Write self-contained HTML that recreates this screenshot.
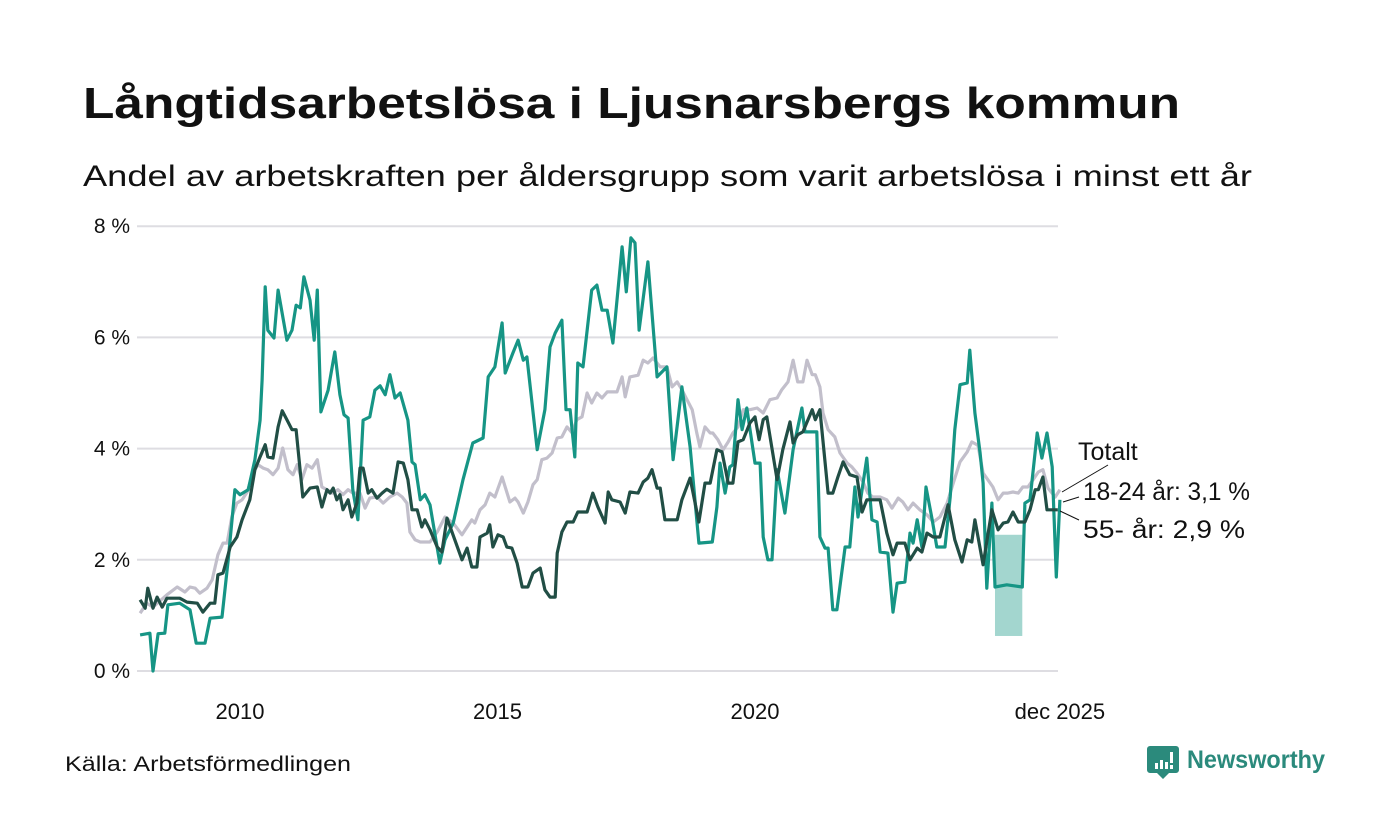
<!DOCTYPE html>
<html><head><meta charset="utf-8"><style>
html,body{margin:0;padding:0;background:#fff;}
svg{display:block;font-family:"Liberation Sans",sans-serif;}
</style></head><body>
<svg id="chart" width="1400" height="840" viewBox="0 0 1400 840" xmlns="http://www.w3.org/2000/svg">
<rect width="1400" height="840" fill="#fff"/>
<text x="83" y="118" font-size="44" font-weight="bold" fill="#111" textLength="1097" lengthAdjust="spacingAndGlyphs">Långtidsarbetslösa i Ljusnarsbergs kommun</text>
<text x="83" y="186" font-size="30" fill="#111" textLength="1169" lengthAdjust="spacingAndGlyphs">Andel av arbetskraften per åldersgrupp som varit arbetslösa i minst ett år</text>
<g id="grid"></g>
<g id="band"></g>
<g id="series"></g>
<g id="labels">
<line x1="1062" y1="492" x2="1108" y2="465" stroke="#111" stroke-width="1"/>
<line x1="1063" y1="502" x2="1079" y2="497" stroke="#111" stroke-width="1"/>
<line x1="1060" y1="511" x2="1079" y2="520" stroke="#111" stroke-width="1"/>
<text x="1078" y="460" font-size="25" fill="#111">Totalt</text>
<text x="1083" y="500" font-size="25" fill="#111" textLength="167" lengthAdjust="spacingAndGlyphs">18-24 år: 3,1 %</text>
<text x="1083" y="538" font-size="25" fill="#111" textLength="162" lengthAdjust="spacingAndGlyphs">55- år: 2,9 %</text>
</g>
<text x="65" y="771" font-size="21" fill="#111" textLength="286" lengthAdjust="spacingAndGlyphs">Källa: Arbetsförmedlingen</text>
<g>
<path d="M1150 746 h26 a3 3 0 0 1 3 3 v21 a3 3 0 0 1 -3 3 h-7 l-6 6 l-6 -6 h-7 a3 3 0 0 1 -3 -3 v-21 a3 3 0 0 1 3 -3z" fill="#2b8a7c"/>
<rect x="1155" y="763" width="3" height="6" fill="#fff"/><rect x="1160" y="760" width="3" height="9" fill="#fff"/><rect x="1165" y="762" width="3" height="7" fill="#fff"/><rect x="1170" y="752" width="3" height="11" fill="#fff"/><rect x="1170" y="765" width="3" height="4" fill="#fff"/>
<text x="1187" y="768" font-size="25" font-weight="bold" fill="#2b8a7c" textLength="138" lengthAdjust="spacingAndGlyphs">Newsworthy</text>
</g>
</svg>
<script>
const yTicks = [0, 2, 4, 6, 8];
const yTickLabels = ["0 %", "2 %", "4 %", "6 %", "8 %"];
const xTicks = [2010, 2015, 2020, 2025.92];
const xTickLabels = ["2010", "2015", "2020", "dec 2025"];
const bandRange = [2024.66, 2025.19];
const bandValues = [0.63, 2.45];
const totalPoints = [[2008.06,1.04],[2008.19,1.22],[2008.31,1.15],[2008.58,1.37],[2008.78,1.51],[2008.93,1.42],[2009.03,1.51],[2009.13,1.49],[2009.22,1.40],[2009.36,1.49],[2009.46,1.64],[2009.57,2.09],[2009.67,2.30],[2009.75,2.30],[2009.84,2.77],[2009.94,3.02],[2010.04,3.08],[2010.14,3.22],[2010.25,3.56],[2010.35,3.71],[2010.45,3.65],[2010.54,3.62],[2010.64,3.53],[2010.74,3.65],[2010.83,4.01],[2010.93,3.62],[2011.03,3.53],[2011.11,3.71],[2011.20,3.44],[2011.30,3.71],[2011.40,3.65],[2011.50,3.80],[2011.59,3.31],[2011.69,3.26],[2011.79,3.20],[2011.90,3.26],[2012.00,3.17],[2012.10,3.26],[2012.19,3.20],[2012.33,3.20],[2012.43,2.93],[2012.52,3.11],[2012.66,3.13],[2012.78,3.02],[2012.91,3.13],[2013.05,3.20],[2013.15,3.13],[2013.24,3.02],[2013.30,2.50],[2013.40,2.36],[2013.50,2.32],[2013.69,2.32],[2013.83,2.50],[2013.98,2.77],[2014.14,2.66],[2014.31,2.45],[2014.41,2.59],[2014.50,2.72],[2014.56,2.66],[2014.66,2.90],[2014.76,2.99],[2014.85,3.20],[2014.95,3.13],[2015.09,3.49],[2015.15,3.31],[2015.24,3.04],[2015.34,3.11],[2015.40,3.04],[2015.50,2.84],[2015.59,3.04],[2015.69,3.35],[2015.77,3.44],[2015.86,3.80],[2015.96,3.83],[2016.06,3.92],[2016.16,4.19],[2016.25,4.21],[2016.35,4.39],[2016.45,4.28],[2016.54,4.52],[2016.64,4.57],[2016.74,5.00],[2016.83,4.82],[2016.93,5.00],[2017.03,4.91],[2017.13,5.02],[2017.32,5.02],[2017.42,5.29],[2017.48,4.93],[2017.57,5.29],[2017.73,5.32],[2017.83,5.59],[2017.92,5.54],[2018.02,5.63],[2018.16,5.47],[2018.29,5.47],[2018.39,5.11],[2018.49,5.20],[2018.58,5.06],[2018.68,4.88],[2018.78,4.70],[2018.87,4.28],[2018.93,4.03],[2019.03,4.39],[2019.13,4.28],[2019.18,4.28],[2019.28,4.16],[2019.38,3.98],[2019.48,4.12],[2019.57,4.28],[2019.67,4.39],[2019.77,4.70],[2019.90,4.70],[2020.04,4.73],[2020.16,4.64],[2020.29,4.88],[2020.43,4.91],[2020.52,5.06],[2020.64,5.20],[2020.74,5.59],[2020.83,5.20],[2020.93,5.20],[2021.01,5.59],[2021.11,5.33],[2021.17,5.33],[2021.26,5.11],[2021.32,4.64],[2021.42,4.34],[2021.55,4.21],[2021.65,3.92],[2021.79,3.74],[2021.88,3.67],[2021.98,3.56],[2022.10,3.40],[2022.19,3.20],[2022.29,3.13],[2022.43,3.13],[2022.56,3.08],[2022.66,2.93],[2022.78,3.11],[2022.87,3.04],[2022.97,2.90],[2023.07,3.02],[2023.20,2.90],[2023.34,2.81],[2023.46,2.68],[2023.59,2.77],[2023.73,3.02],[2023.84,3.35],[2023.98,3.76],[2024.12,3.94],[2024.21,4.12],[2024.33,4.06],[2024.43,3.56],[2024.52,3.44],[2024.62,3.31],[2024.72,3.08],[2024.82,3.20],[2024.91,3.20],[2025.01,3.22],[2025.11,3.20],[2025.20,3.31],[2025.30,3.31],[2025.40,3.44],[2025.50,3.58],[2025.59,3.62],[2025.69,3.29],[2025.83,3.13],[2025.92,3.26]];
const youthPoints = [[2008.06,0.65],[2008.25,0.68],[2008.31,0],[2008.41,0.67],[2008.54,0.68],[2008.60,1.19],[2008.83,1.22],[2009.03,1.10],[2009.15,0.50],[2009.32,0.50],[2009.42,0.95],[2009.65,0.97],[2009.77,2.00],[2009.90,3.26],[2010.00,3.17],[2010.16,3.26],[2010.29,3.80],[2010.39,4.51],[2010.43,5.23],[2010.49,6.91],[2010.54,6.13],[2010.66,5.99],[2010.74,6.85],[2010.91,5.95],[2011.01,6.13],[2011.09,6.58],[2011.17,6.53],[2011.24,7.09],[2011.36,6.67],[2011.44,5.95],[2011.50,6.85],[2011.57,4.66],[2011.71,5.05],[2011.84,5.74],[2011.94,4.97],[2012.02,4.61],[2012.10,4.55],[2012.19,3.26],[2012.29,2.72],[2012.39,4.51],[2012.52,4.57],[2012.62,5.05],[2012.72,5.13],[2012.82,4.97],[2012.91,5.33],[2013.01,4.91],[2013.11,5.00],[2013.26,4.51],[2013.34,3.76],[2013.40,3.71],[2013.50,3.08],[2013.59,3.17],[2013.69,2.99],[2013.88,1.94],[2013.98,2.36],[2014.14,2.66],[2014.33,3.44],[2014.52,4.10],[2014.72,4.19],[2014.82,5.29],[2014.95,5.47],[2015.09,6.26],[2015.15,5.36],[2015.30,5.72],[2015.40,5.95],[2015.50,5.59],[2015.57,5.65],[2015.77,3.98],[2015.92,4.70],[2016.02,5.83],[2016.12,6.08],[2016.25,6.31],[2016.33,4.70],[2016.41,4.70],[2016.50,3.85],[2016.56,5.54],[2016.66,5.47],[2016.83,6.85],[2016.93,6.94],[2017.03,6.49],[2017.13,6.49],[2017.24,5.90],[2017.42,7.63],[2017.50,6.82],[2017.59,7.79],[2017.67,7.70],[2017.75,6.13],[2017.92,7.36],[2018.10,5.29],[2018.29,5.47],[2018.41,3.80],[2018.58,5.11],[2018.74,4.03],[2018.91,2.30],[2019.17,2.32],[2019.26,2.95],[2019.32,3.74],[2019.42,3.20],[2019.51,3.67],[2019.57,3.71],[2019.67,4.88],[2019.75,4.34],[2019.84,4.73],[2020.00,3.74],[2020.10,3.74],[2020.16,2.41],[2020.25,2.00],[2020.33,2.00],[2020.43,3.62],[2020.58,2.84],[2020.74,3.98],[2020.91,4.73],[2020.97,4.30],[2021.20,4.30],[2021.26,2.41],[2021.36,2.21],[2021.42,2.21],[2021.51,1.10],[2021.59,1.10],[2021.75,2.23],[2021.84,2.23],[2021.94,3.31],[2022.00,2.77],[2022.17,3.83],[2022.27,2.72],[2022.37,2.68],[2022.43,2.14],[2022.58,2.12],[2022.68,1.06],[2022.76,1.58],[2022.91,1.60],[2023.01,2.48],[2023.07,2.30],[2023.15,2.72],[2023.24,2.23],[2023.32,3.31],[2023.44,2.72],[2023.53,2.23],[2023.69,2.23],[2023.79,3.13],[2023.88,4.34],[2023.98,5.15],[2024.12,5.18],[2024.17,5.77],[2024.27,4.64],[2024.37,3.92],[2024.43,3.38],[2024.50,1.49],[2024.60,3.02],[2024.66,1.51],[2024.89,1.55],[2025.19,1.51],[2025.24,3.02],[2025.34,3.08],[2025.48,4.28],[2025.57,3.83],[2025.67,4.28],[2025.77,3.67],[2025.85,1.69],[2025.92,3.08]];
const seniorPoints = [[2008.06,1.28],[2008.16,1.13],[2008.21,1.49],[2008.31,1.13],[2008.39,1.33],[2008.49,1.15],[2008.58,1.31],[2008.83,1.31],[2008.97,1.24],[2009.17,1.22],[2009.28,1.06],[2009.42,1.22],[2009.51,1.22],[2009.57,1.73],[2009.67,1.76],[2009.81,2.23],[2009.94,2.41],[2010.04,2.72],[2010.19,3.08],[2010.29,3.62],[2010.39,3.85],[2010.49,4.07],[2010.54,3.85],[2010.64,3.83],[2010.74,4.39],[2010.82,4.68],[2010.91,4.52],[2011.01,4.34],[2011.09,4.34],[2011.22,3.13],[2011.36,3.29],[2011.50,3.31],[2011.59,2.95],[2011.69,3.26],[2011.75,3.20],[2011.81,3.29],[2011.88,3.08],[2011.94,3.17],[2012.00,2.90],[2012.10,3.08],[2012.17,2.77],[2012.27,3.02],[2012.33,3.65],[2012.39,3.65],[2012.49,3.20],[2012.56,3.26],[2012.66,3.11],[2012.76,3.20],[2012.85,3.27],[2012.97,3.20],[2013.07,3.76],[2013.17,3.74],[2013.26,3.44],[2013.34,2.90],[2013.44,2.90],[2013.53,2.59],[2013.59,2.72],[2013.69,2.54],[2013.83,2.23],[2013.92,2.14],[2014.02,2.75],[2014.17,2.36],[2014.31,2.00],[2014.41,2.21],[2014.50,1.87],[2014.60,1.87],[2014.66,2.41],[2014.80,2.48],[2014.85,2.63],[2014.91,2.23],[2015.01,2.45],[2015.11,2.41],[2015.18,2.23],[2015.28,2.21],[2015.38,1.94],[2015.48,1.51],[2015.59,1.51],[2015.69,1.76],[2015.83,1.85],[2015.92,1.46],[2016.02,1.33],[2016.12,1.33],[2016.16,2.12],[2016.25,2.50],[2016.35,2.68],[2016.47,2.68],[2016.56,2.86],[2016.74,2.86],[2016.85,3.20],[2016.95,2.95],[2017.09,2.66],[2017.15,3.22],[2017.22,3.08],[2017.38,3.04],[2017.48,2.84],[2017.57,3.22],[2017.73,3.20],[2017.83,3.40],[2017.92,3.47],[2018.00,3.62],[2018.10,3.29],[2018.16,3.29],[2018.25,2.72],[2018.49,2.72],[2018.58,3.08],[2018.74,3.47],[2018.91,2.68],[2019.03,3.38],[2019.13,3.38],[2019.26,3.98],[2019.36,3.94],[2019.48,3.38],[2019.57,3.38],[2019.67,4.12],[2019.77,4.16],[2019.90,4.46],[2020.00,4.57],[2020.08,4.16],[2020.16,4.52],[2020.23,4.57],[2020.43,3.44],[2020.54,3.98],[2020.68,4.48],[2020.74,4.10],[2020.83,4.25],[2020.93,4.30],[2021.03,4.52],[2021.11,4.70],[2021.17,4.52],[2021.26,4.70],[2021.42,3.20],[2021.51,3.20],[2021.61,3.49],[2021.71,3.76],[2021.84,3.53],[2021.98,3.49],[2022.08,2.86],[2022.17,3.08],[2022.43,3.08],[2022.56,2.48],[2022.68,2.09],[2022.76,2.30],[2022.91,2.30],[2023.01,2.00],[2023.15,2.21],[2023.24,2.14],[2023.34,2.48],[2023.46,2.41],[2023.59,2.41],[2023.75,2.99],[2023.88,2.36],[2024.02,1.96],[2024.12,2.36],[2024.21,2.32],[2024.27,2.72],[2024.43,1.91],[2024.60,2.90],[2024.72,2.54],[2024.82,2.66],[2024.91,2.68],[2025.01,2.86],[2025.11,2.68],[2025.24,2.68],[2025.34,2.90],[2025.44,3.26],[2025.50,3.26],[2025.59,3.49],[2025.67,2.90],[2025.88,2.90]];

const NS = "http://www.w3.org/2000/svg";
function xScale(yr){ return 240 + (yr - 2010) * 51.5; }
function yScale(v){ return 671 - v * 55.6; }
function mk(tag, attrs){ const e = document.createElementNS(NS, tag); for (const k in attrs) e.setAttribute(k, attrs[k]); return e; }

const grid = document.getElementById('grid');
yTicks.forEach((t, i) => {
  const ln = mk('line', {x1: 137, x2: 1058, y1: yScale(t), y2: yScale(t), stroke: '#dedde2', 'stroke-width': 2});
  
  
  grid.appendChild(ln);
  const tx = mk('text', {x: 130, y: yScale(t) + 7, 'text-anchor': 'end', 'font-size': 21, fill: '#111'});
  tx.textContent = yTickLabels[i];
  
  
  grid.appendChild(tx);
});
xTicks.forEach((t, i) => {
  const tx = mk('text', {x: xScale(t), y: 719, 'text-anchor': 'middle', 'font-size': 22, fill: '#111'});
  tx.textContent = xTickLabels[i];
  
  
  grid.appendChild(tx);
});

const band = document.getElementById('band');
const br = mk('rect', {x: xScale(bandRange[0]), width: xScale(bandRange[1]) - xScale(bandRange[0]), y: yScale(bandValues[1]), height: yScale(bandValues[0]) - yScale(bandValues[1]), fill: '#a3d6cf'});


band.appendChild(br);

const series = document.getElementById('series');
function drawLine(points, color, name){
  const d = points.map((p, i) => (i ? 'L' : 'M') + xScale(p[0]).toFixed(1) + ' ' + yScale(p[1]).toFixed(1)).join(' ');
  const path = mk('path', {d: d, fill: 'none', stroke: color, 'stroke-width': 3.2, 'stroke-linejoin': 'round'});
  
  
  series.appendChild(path);
}
drawLine(totalPoints, '#c2bfcb', 'line-totalt');
drawLine(youthPoints, '#169585', 'line-18-24');
drawLine(seniorPoints, '#214e45', 'line-55');
</script>
</body></html>
